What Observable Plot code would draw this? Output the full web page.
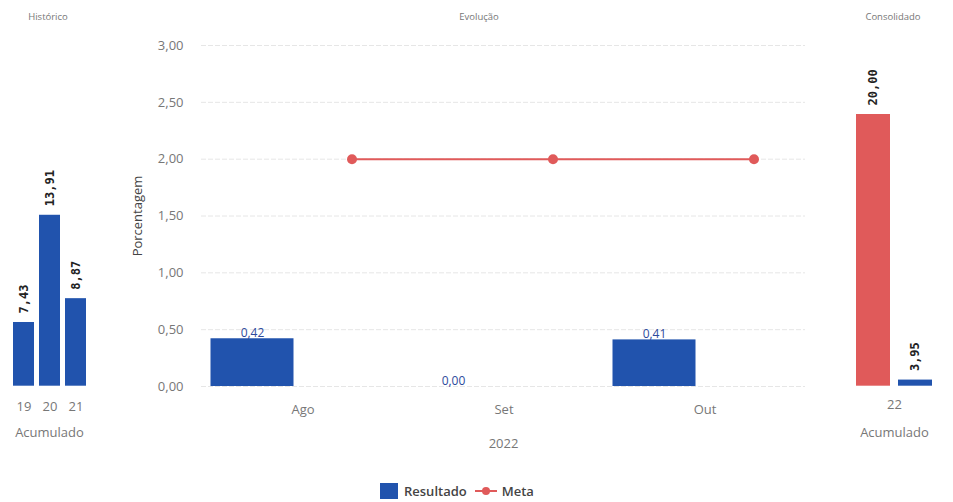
<!DOCTYPE html>
<html>
<head>
<meta charset="utf-8">
<script src="https://cdn.jsdelivr.net/npm/d3@7"></script>
<script src="https://cdn.jsdelivr.net/npm/@observablehq/plot@0.6"></script>
<style>
html, body { margin: 0; padding: 0; background: #fff; }
#root { position: relative; width: 953px; height: 502px; overflow: hidden; font-family: "Open Sans", sans-serif; }
#root svg.panel { position: absolute; left: 0; top: 0; }
.title { position: absolute; top: 10px; font-size: 9.5px; line-height: 14px; color: #777; transform: translateX(-50%); white-space: nowrap; }
#legend { position: absolute; top: 482px; left: 380px; display: flex; align-items: center; font-size: 13px; font-weight: 600; color: #444; height: 18px; }
#legend .sw { display: inline-block; width: 18px; height: 16px; margin-right: 6px; }
#legend .lbl { margin-right: 8px; }
#legend svg { margin-right: 5px; }
</style>
</head>
<body>
<div id="root"></div>
<script>
// ---- data ----
const titulos = ["Histórico", "Evolução", "Consolidado"];
const historicoAnos = ["19", "20", "21"];
const historicoValores = [7.43, 13.91, 8.87];
const meses = ["Ago", "Set", "Out"];
const resultado = [0.42, 0.00, 0.41];
const meta = [2.00, 2.00, 2.00];
const anoEvolucao = ["2022"];
const yTicks = [0, 0.5, 1, 1.5, 2, 2.5, 3];
const consolidadoAno = ["22"];
const consolidadoSeries = ["Meta", "Resultado"];
const consolidadoValores = [20.00, 3.95];
const series = ["Resultado", "Meta"];
const eixoAcumulado = ["Acumulado"];
const yLabel = ["Porcentagem"];

// ---- helpers ----
const fmt = v => d3.format(".2f")(v).replace(".", ",");
const W = 953, H = 460;
const blue = "#2153ad", red = "#e05a5a";
const sideBase = 3.58, sideTop = 24.17;
const baseStyle = {fontFamily: "Open Sans", fontSize: "13px", color: "#777", background: "transparent", overflow: "visible"};
const valueLabel = {rotate: -90, textAnchor: "start", dy: -9, fontFamily: "DejaVu Sans Mono", fontWeight: "bold", fontSize: 12, fill: "#222"};

const root = document.getElementById("root");

// ---- left: Histórico ----
const hist = historicoAnos.map((a, i) => ({ano: a, valor: historicoValores[i]}));
const left = Plot.plot({
  width: W, height: H,
  marginLeft: 6.6, marginRight: W - 91.4, marginTop: 45, marginBottom: H - 385.7,
  style: baseStyle,
  x: {domain: historicoAnos, padding: 0.2, label: null, tickSize: 0, tickPadding: 16},
  y: {domain: [sideBase, sideTop], axis: null},
  marks: [
    Plot.barY(hist, {x: "ano", y1: () => sideBase, y2: "valor", fill: blue}),
    Plot.text(hist, {x: "ano", y: "valor", text: d => fmt(d.valor), ...valueLabel}),
    Plot.text(eixoAcumulado, {text: d => d, frameAnchor: "bottom", textAnchor: "middle", dy: 51, fill: "#777", fontSize: 13})
  ]
});
left.classList.add("panel");
root.appendChild(left);

// ---- center: Evolução ----
const evol = meses.map((m, i) => ({mes: m, resultado: resultado[i], meta: meta[i]}));
const center = Plot.plot({
  width: W, height: H,
  marginLeft: 201, marginRight: W - 805, marginTop: 45, marginBottom: H - 386,
  style: baseStyle,
  x: {domain: meses, padding: 0, label: null, tickSize: 0, tickPadding: 18},
  y: {domain: [0, 3], ticks: yTicks, tickFormat: fmt, label: null, tickSize: 0, tickPadding: 18},
  marks: [
    Plot.ruleY(yTicks, {stroke: "#e6e6e6", strokeDasharray: "5,2"}),
    Plot.barY(evol, {x: "mes", y: "resultado", fill: blue, insetLeft: 8.5, insetRight: 109.5}),
    Plot.text(evol, {x: "mes", y: "resultado", text: d => fmt(d.resultado), dx: -50.5, dy: -2, lineAnchor: "bottom", fill: "#2d4a9c", fontSize: 12}),
    Plot.line(evol, {x: "mes", y: "meta", stroke: red, strokeWidth: 2, dx: 49}),
    Plot.dot(evol, {x: "mes", y: "meta", r: 5, fill: red, dx: 49}),
    Plot.text(yLabel, {text: d => d, frameAnchor: "left", textAnchor: "middle", rotate: -90, dx: -64, fill: "#444", fontSize: 13}),
    Plot.text(anoEvolucao, {text: d => d, frameAnchor: "bottom", textAnchor: "middle", dy: 61, fill: "#777", fontSize: 13})
  ]
});
center.classList.add("panel");
root.appendChild(center);

// ---- right: Consolidado ----
const cons = consolidadoSeries.map((s, i) => ({serie: s, valor: consolidadoValores[i]}));
const right = Plot.plot({
  width: W, height: H,
  marginLeft: 848, marginRight: W - 940, marginTop: 45, marginBottom: H - 385.7,
  style: baseStyle,
  x: {domain: consolidadoSeries, padding: 0.19, axis: null},
  y: {domain: [sideBase, sideTop], axis: null},
  color: {domain: series, range: [blue, red]},
  marks: [
    Plot.barY(cons, {x: "serie", y1: () => sideBase, y2: "valor", fill: "serie"}),
    Plot.text(cons, {x: "serie", y: "valor", text: d => fmt(d.valor), ...valueLabel}),
    Plot.text(consolidadoAno, {text: d => d, frameAnchor: "bottom", textAnchor: "middle", dy: 23, fill: "#777", fontSize: 13}),
    Plot.text(eixoAcumulado, {text: d => d, frameAnchor: "bottom", textAnchor: "middle", dy: 51, fill: "#777", fontSize: 13})
  ]
});
right.classList.add("panel");
root.appendChild(right);

// ---- titles ----
const titleX = [48, 479, 893];
titulos.forEach((t, i) => {
  const d = document.createElement("div");
  d.className = "title";
  d.style.left = titleX[i] + "px";
  d.textContent = t;
  root.appendChild(d);
});

// ---- legend ----
const legend = document.createElement("div");
legend.id = "legend";
const legendColors = {Resultado: blue, Meta: red};
series.forEach(s => {
  if (s === "Resultado") {
    const sw = document.createElement("span");
    sw.className = "sw";
    sw.style.background = legendColors[s];
    legend.appendChild(sw);
  } else {
    const ns = "http://www.w3.org/2000/svg";
    const svg = document.createElementNS(ns, "svg");
    svg.setAttribute("width", 22); svg.setAttribute("height", 12);
    const ln = document.createElementNS(ns, "line");
    ln.setAttribute("x1", 0); ln.setAttribute("x2", 22); ln.setAttribute("y1", 6); ln.setAttribute("y2", 6);
    ln.setAttribute("stroke", legendColors[s]); ln.setAttribute("stroke-width", 2);
    const c = document.createElementNS(ns, "circle");
    c.setAttribute("cx", 11); c.setAttribute("cy", 6); c.setAttribute("r", 4); c.setAttribute("fill", legendColors[s]);
    svg.appendChild(ln); svg.appendChild(c);
    legend.appendChild(svg);
  }
  const l = document.createElement("span");
  l.className = "lbl";
  l.textContent = s;
  legend.appendChild(l);
});
root.appendChild(legend);
</script>
</body>
</html>
